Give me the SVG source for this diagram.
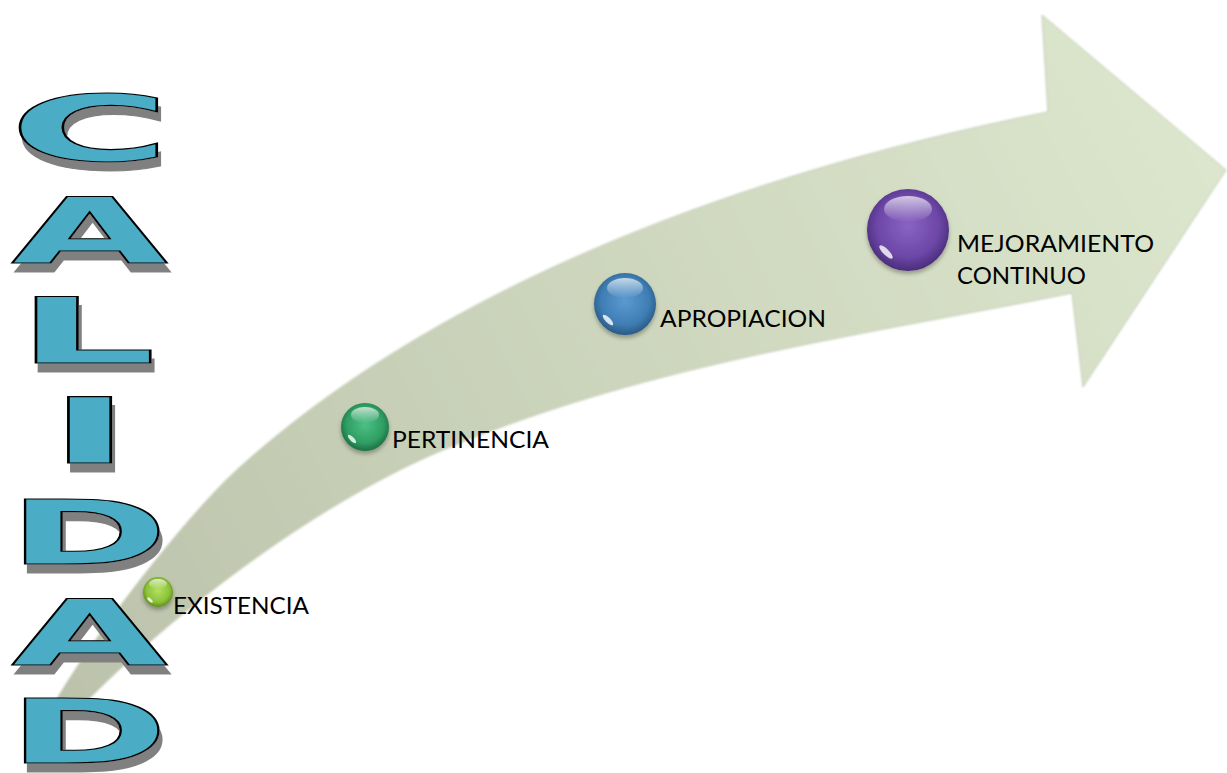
<svg xmlns="http://www.w3.org/2000/svg" width="1227" height="773" viewBox="0 0 1227 773">
<defs>
<style>
.lbl{font-family:"Lato","Open Sans","Liberation Sans",sans-serif;font-size:24px;fill:#000}
.wa{font-family:"DejaVu Sans","Liberation Sans",sans-serif;font-weight:bold;font-size:90px;fill:#4bacc6;stroke:#000;stroke-width:1.1;text-anchor:middle}
.hl{fill:url(#gHi)}
.refl{fill:#ffffff;opacity:0.8}
.ball{filter:url(#bsh)}
</style>
<linearGradient id="gArrow" gradientUnits="userSpaceOnUse" x1="60" y1="700" x2="1200" y2="120">
<stop offset="0" stop-color="#bcc2ab"/>
<stop offset="0.45" stop-color="#cbd4bb"/>
<stop offset="1" stop-color="#dce6cd"/>
</linearGradient>
<linearGradient id="gHi" x1="0" y1="0" x2="0" y2="1">
<stop offset="0" stop-color="#ffffff" stop-opacity="0.7"/>
<stop offset="1" stop-color="#ffffff" stop-opacity="0"/>
</linearGradient>
<radialGradient id="gLime" cx="0.5" cy="0.45" r="0.55">
<stop offset="0" stop-color="#b4e060"/><stop offset="0.7" stop-color="#8cc23a"/><stop offset="1" stop-color="#5f8c1c"/>
</radialGradient>
<radialGradient id="gGreen" cx="0.5" cy="0.45" r="0.55">
<stop offset="0" stop-color="#4cc085"/><stop offset="0.7" stop-color="#2f9e63"/><stop offset="1" stop-color="#1d6e43"/>
</radialGradient>
<radialGradient id="gBlue" cx="0.5" cy="0.45" r="0.55">
<stop offset="0" stop-color="#5b9ad0"/><stop offset="0.7" stop-color="#3f7eb4"/><stop offset="1" stop-color="#2a5a85"/>
</radialGradient>
<radialGradient id="gPurple" cx="0.5" cy="0.45" r="0.55">
<stop offset="0" stop-color="#8a63c4"/><stop offset="0.7" stop-color="#6c46a6"/><stop offset="1" stop-color="#4a2d7a"/>
</radialGradient>
<filter id="shadow" x="-10%" y="-10%" width="130%" height="150%">
<feOffset in="SourceAlpha" dx="3" dy="9" result="o"/>
<feFlood flood-color="#808080"/>
<feComposite in2="o" operator="in" result="s"/>
<feMerge><feMergeNode in="s"/><feMergeNode in="SourceGraphic"/></feMerge>
</filter>
<filter id="soft" x="-5%" y="-5%" width="110%" height="110%">
<feGaussianBlur stdDeviation="0.8"/>
</filter>
<filter id="bsh" x="-30%" y="-30%" width="160%" height="170%">
<feGaussianBlur in="SourceAlpha" stdDeviation="2"/>
<feOffset dy="3" result="b"/>
<feFlood flood-color="#000" flood-opacity="0.3"/>
<feComposite in2="b" operator="in" result="s"/>
<feMerge><feMergeNode in="s"/><feMergeNode in="SourceGraphic"/></feMerge>
</filter>
</defs>

<g id="arrow">
<path d="M52,708 C80,655 180,521 240,467 C420,305 698,182 1048,112 L1042,15 L1226,170 L1083,387 L1072,293 C865,335 657,362 450,447 C323,499 178,607 78,710 Z" fill="url(#gArrow)" stroke="#c2c9b2" stroke-width="1" filter="url(#soft)"/>
</g>

<g id="calidad" filter="url(#shadow)">
<g id="letter-C"><text class="wa" transform="translate(90,161) scale(2.45,1)">C</text></g>
<g id="letter-A1"><text class="wa" transform="translate(89.5,263) scale(2.25,1)">A</text></g>
<g id="letter-L"><text class="wa" transform="translate(86,363) scale(2.45,1)">L</text></g>
<g id="letter-I"><text class="wa" transform="translate(89.5,463) scale(2.5,1)">I</text></g>
<g id="letter-D1"><text class="wa" transform="translate(88,564) scale(2.16,1)">D</text></g>
<g id="letter-A2"><text class="wa" transform="translate(89.5,665) scale(2.25,1)">A</text></g>
<g id="letter-D2"><text class="wa" transform="translate(88,763) scale(2.16,1)">D</text></g>
</g>

<g id="node-existencia">
<circle class="ball" cx="158" cy="592" r="15" fill="url(#gLime)"/>
<ellipse class="hl" cx="158" cy="584" rx="9" ry="5"/>
<ellipse class="refl" cx="150" cy="600" rx="3.5" ry="1.5" transform="rotate(45 150 600)"/>
<text class="lbl" x="173" y="614" textLength="136" lengthAdjust="spacingAndGlyphs">EXISTENCIA</text>
</g>

<g id="node-pertinencia">
<circle class="ball" cx="365" cy="427" r="24" fill="url(#gGreen)"/>
<ellipse class="hl" cx="365" cy="415" rx="14" ry="8"/>
<ellipse class="refl" cx="352" cy="439" rx="5.5" ry="2" transform="rotate(45 352 439)"/>
<text class="lbl" x="392" y="448" textLength="157" lengthAdjust="spacingAndGlyphs">PERTINENCIA</text>
</g>

<g id="node-apropiacion">
<circle class="ball" cx="625" cy="304" r="31" fill="url(#gBlue)"/>
<ellipse class="hl" cx="625" cy="288" rx="18" ry="10"/>
<ellipse class="refl" cx="608" cy="320" rx="7" ry="2.5" transform="rotate(45 608 320)"/>
<text class="lbl" x="660" y="327" textLength="166" lengthAdjust="spacingAndGlyphs">APROPIACION</text>
</g>

<g id="node-mejoramiento">
<circle class="ball" cx="908" cy="230" r="41" fill="url(#gPurple)"/>
<ellipse class="hl" cx="908" cy="209" rx="24" ry="13"/>
<ellipse class="refl" cx="886" cy="252" rx="9" ry="3" transform="rotate(45 886 252)"/>
<text class="lbl" x="957" y="252" textLength="197" lengthAdjust="spacingAndGlyphs">MEJORAMIENTO</text>
<text class="lbl" x="957" y="284" textLength="129" lengthAdjust="spacingAndGlyphs">CONTINUO</text>
</g>
</svg>
